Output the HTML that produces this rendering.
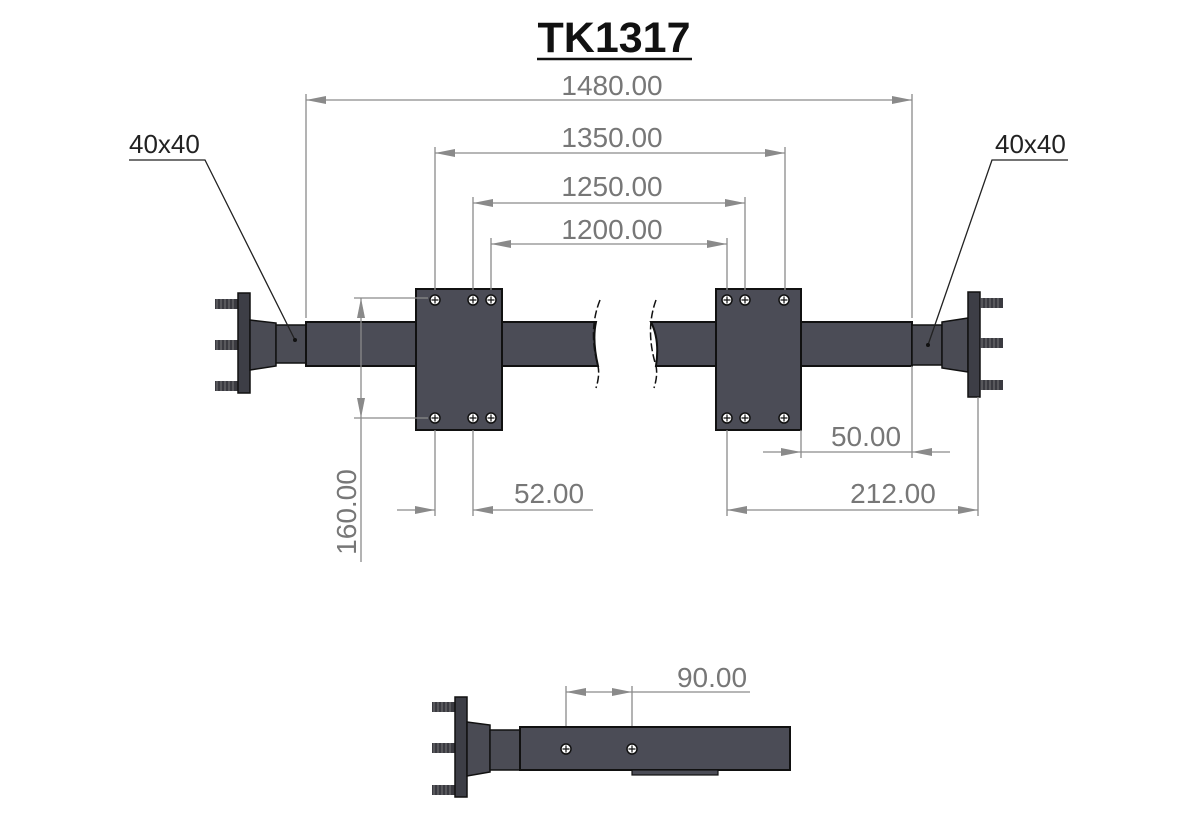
<!DOCTYPE html>
<html><head><style>html,body{margin:0;padding:0;background:#fff;}svg{display:block}</style></head>
<body>
<svg width="1200" height="832" viewBox="0 0 1200 832" xmlns="http://www.w3.org/2000/svg">
<defs>
<marker id="a" viewBox="0 0 20 8" refX="20" refY="4" markerWidth="20" markerHeight="8" markerUnits="userSpaceOnUse" orient="auto-start-reverse"><path d="M0,0 L20,4 L0,8 Z" fill="#8a8a8a"/></marker>
<g id="hole"><circle r="5" fill="#fff" stroke="#111" stroke-width="1.5"/><path d="M-3.5,0H3.5M0,-3.5V3.5" stroke="#111" stroke-width="1.2"/></g>
<g id="stud"><rect x="0" y="-5" width="23" height="10" fill="#3a3a40"/><path d="M2,-5V5M6,-5V5M10,-5V5M14,-5V5M18,-5V5" stroke="#777" stroke-width="1"/></g>
</defs>
<g font-family="Liberation Sans, sans-serif">
<text x="614" y="52" font-size="43" font-weight="bold" text-anchor="middle" fill="#111">TK1317</text>
<line x1="537" y1="59" x2="692" y2="59" stroke="#111" stroke-width="2.5"/>

<!-- left axle -->
<use href="#stud" x="215" y="304"/><use href="#stud" x="215" y="345"/><use href="#stud" x="215" y="386"/>
<rect x="238" y="293" width="12" height="100" fill="#3d3e46" stroke="#111" stroke-width="1.5"/>
<path d="M250,320 L276,323 L276,366 L250,370 Z" fill="#4a4b54" stroke="#111" stroke-width="1.5"/>
<rect x="276" y="325" width="30" height="38" fill="#4b4c55" stroke="#111" stroke-width="1.5"/>
<path d="M306,322 H596 Q592,340 598,366 H306 Z" fill="#4b4c56" stroke="#111" stroke-width="2"/>
<path d="M600,300 Q588,330 598,366 Q600,375 596,388" fill="none" stroke="#111" stroke-width="1.5" stroke-dasharray="8,3"/>
<rect x="416" y="289" width="86" height="141" fill="#4b4c56" stroke="#111" stroke-width="2"/>
<use href="#hole" x="435" y="300"/><use href="#hole" x="473" y="300"/><use href="#hole" x="491" y="300"/>
<use href="#hole" x="435" y="418"/><use href="#hole" x="473" y="418"/><use href="#hole" x="491" y="418"/>

<!-- right axle -->
<path d="M651,322 H912 V366 H656 Q660,340 651,322 Z" fill="#4b4c56" stroke="#111" stroke-width="2"/>
<path d="M656,300 Q645,330 656,366 Q658,375 654,388" fill="none" stroke="#111" stroke-width="1.5" stroke-dasharray="8,3"/>
<rect x="716" y="289" width="85" height="141" fill="#4b4c56" stroke="#111" stroke-width="2"/>
<use href="#hole" x="727" y="300"/><use href="#hole" x="745" y="300"/><use href="#hole" x="784" y="300"/>
<use href="#hole" x="727" y="418"/><use href="#hole" x="745" y="418"/><use href="#hole" x="784" y="418"/>
<rect x="912" y="325" width="30" height="40" fill="#4b4c55" stroke="#111" stroke-width="1.5"/>
<path d="M942,322 L968,318 L968,372 L942,368 Z" fill="#4a4b54" stroke="#111" stroke-width="1.5"/>
<rect x="968" y="292" width="12" height="105" fill="#3d3e46" stroke="#111" stroke-width="1.5"/>
<use href="#stud" x="980" y="303"/><use href="#stud" x="980" y="343"/><use href="#stud" x="980" y="385"/>

<!-- dimensions -->
<g stroke="#8a8a8a" stroke-width="1.3" fill="none">
<line x1="306" y1="94" x2="306" y2="318"/><line x1="912" y1="94" x2="912" y2="318"/>
<line x1="306" y1="100" x2="912" y2="100" marker-start="url(#a)" marker-end="url(#a)"/>
<line x1="435" y1="147" x2="435" y2="290"/><line x1="785" y1="147" x2="785" y2="290"/>
<line x1="435" y1="153" x2="785" y2="153" marker-start="url(#a)" marker-end="url(#a)"/>
<line x1="473" y1="197" x2="473" y2="290"/><line x1="745" y1="197" x2="745" y2="290"/>
<line x1="473" y1="203" x2="745" y2="203" marker-start="url(#a)" marker-end="url(#a)"/>
<line x1="491" y1="238" x2="491" y2="290"/><line x1="727" y1="238" x2="727" y2="290"/>
<line x1="491" y1="244" x2="727" y2="244" marker-start="url(#a)" marker-end="url(#a)"/>
<line x1="354" y1="298" x2="428" y2="298"/><line x1="354" y1="418" x2="428" y2="418"/>
<line x1="361" y1="298" x2="361" y2="418" marker-start="url(#a)" marker-end="url(#a)"/>
<line x1="361" y1="418" x2="361" y2="562"/>
<line x1="435" y1="430" x2="435" y2="516"/><line x1="473" y1="430" x2="473" y2="516"/>
<line x1="397" y1="510" x2="435" y2="510" marker-end="url(#a)"/>
<line x1="593" y1="510" x2="473" y2="510" marker-end="url(#a)"/>
<line x1="727" y1="430" x2="727" y2="516"/><line x1="978" y1="397" x2="978" y2="516"/>
<line x1="727" y1="510" x2="978" y2="510" marker-start="url(#a)" marker-end="url(#a)"/>
<line x1="801" y1="430" x2="801" y2="458"/><line x1="912" y1="366" x2="912" y2="458"/>
<line x1="763" y1="452" x2="801" y2="452" marker-end="url(#a)"/>
<line x1="950" y1="452" x2="912" y2="452" marker-end="url(#a)"/>
<line x1="801" y1="452" x2="912" y2="452"/>
<line x1="566" y1="686" x2="566" y2="745"/><line x1="632" y1="686" x2="632" y2="745"/>
<line x1="566" y1="692" x2="632" y2="692" marker-start="url(#a)" marker-end="url(#a)"/>
<line x1="632" y1="692" x2="750" y2="692"/>
</g>
<g fill="#777" font-size="28" text-anchor="middle">
<text x="612" y="95">1480.00</text>
<text x="612" y="147">1350.00</text>
<text x="612" y="196">1250.00</text>
<text x="612" y="239">1200.00</text>
<text x="549" y="503">52.00</text>
<text x="893" y="503">212.00</text>
<text x="866" y="446">50.00</text>
<text x="712" y="687">90.00</text>
<text transform="translate(356,512) rotate(-90)">160.00</text>
</g>
<g fill="#222" font-size="26">
<text x="129" y="153">40x40</text>
<text x="995" y="153">40x40</text>
</g>
<g stroke="#222" stroke-width="1.3" fill="none">
<polyline points="129,160 205,160 295,340"/>
<polyline points="1068,160 992,160 928,345"/>
</g>
<circle cx="295" cy="340" r="2" fill="#111"/><circle cx="928" cy="345" r="2" fill="#111"/>

<!-- bottom view -->
<use href="#stud" x="432" y="707"/><use href="#stud" x="432" y="748"/><use href="#stud" x="432" y="790"/>
<rect x="455" y="697" width="12" height="100" fill="#3d3e46" stroke="#111" stroke-width="1.5"/>
<path d="M467,722 L490,725 L490,772 L467,776 Z" fill="#4a4b54" stroke="#111" stroke-width="1.5"/>
<rect x="490" y="730" width="30" height="40" fill="#4b4c55" stroke="#111" stroke-width="1.5"/>
<rect x="520" y="727" width="270" height="43" fill="#4b4c56" stroke="#111" stroke-width="2"/>
<rect x="632" y="770" width="86" height="5" fill="#4b4c56" stroke="#111" stroke-width="1.2"/>
<use href="#hole" x="566" y="749"/><use href="#hole" x="632" y="749"/>
</g>
</svg>
</body></html>
